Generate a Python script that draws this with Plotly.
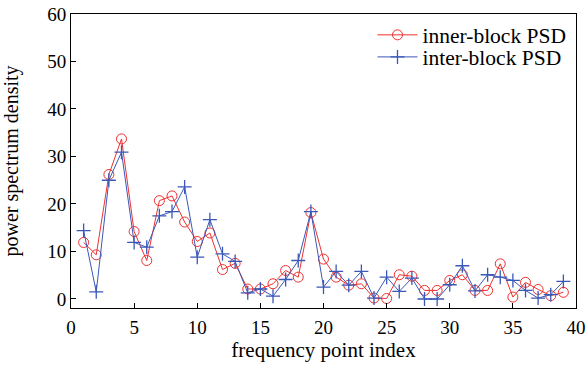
import plotly.graph_objects as go

idx = list(range(1, 40))
inner_psd = [11.9, 9.3, 26.2, 33.7, 14.2, 8.1, 20.7, 21.7, 16.2, 12.1,
             13.9, 6.2, 7.5, 2.1, 2.1, 3.2, 6.0, 4.6, 18.2, 8.4,
             4.6, 2.9, 3.2, 0.2, 0.1, 5.1, 4.8, 1.8, 1.8, 3.9,
             5.1, 1.8, 1.8, 7.4, 0.4, 3.5, 2.0, 0.7, 1.4]
inter_psd = [14.4, 1.5, 25.0, 30.9, 11.9, 10.9, 17.5, 18.4, 23.6, 8.8,
             16.7, 9.5, 7.9, 1.3, 2.1, 0.6, 4.1, 8.1, 18.4, 2.5,
             5.8, 2.9, 5.8, 0.2, 4.6, 1.6, 4.4, 0.0, 0.0, 3.0,
             7.0, 1.7, 5.1, 4.6, 3.9, 1.8, 0.2, 0.9, 3.7]
x_ticks = [0, 5, 10, 15, 20, 25, 30, 35, 40]
y_ticks = [0, 10, 20, 30, 40, 50, 60]

RED = "#ee3030"
BLUE = "#3a58b8"
FONT = "Liberation Serif, Times New Roman, serif"

fig = go.Figure()
fig.add_trace(go.Scatter(
    x=idx, y=inner_psd, mode="lines+markers", name="inner-block PSD",
    line=dict(color=RED, width=1),
    marker=dict(symbol="circle-open", size=10, color=RED, line=dict(width=1)),
    legend="legend",
))
fig.add_trace(go.Scatter(
    x=idx, y=inter_psd, mode="lines+markers", name="inter-block PSD",
    line=dict(color=BLUE, width=1),
    marker=dict(symbol="cross-thin-open", size=10, color=BLUE, line=dict(width=1.3, color=BLUE)),
    legend="legend2",
))

axis_common = dict(
    showline=True, linecolor="black", linewidth=1, mirror=True,
    ticks="inside", ticklen=5, tickcolor="black", tickwidth=1,
    showgrid=False, zeroline=False, automargin=False,
    ticklabeloverflow="allow",
    tickfont=dict(family=FONT, size=19, color="black"),
)

legend_common = dict(
    xanchor="left", yanchor="middle",
    bgcolor="rgba(0,0,0,0)", borderwidth=0,
    font=dict(family=FONT, size=21.5),
    itemwidth=40,
)

fig.update_layout(
    width=587, height=366,
    margin=dict(l=71, r=11, t=14, b=58),
    paper_bgcolor="white", plot_bgcolor="white",
    font=dict(family=FONT, size=19, color="black"),
    xaxis=dict(range=[0, 40], tickvals=x_ticks, ticklabelstandoff=2,
               title=dict(text="frequency point index", font=dict(family=FONT, size=21), standoff=3),
               **axis_common),
    yaxis=dict(range=[-1.9, 60], tickvals=y_ticks,
               title=dict(text="power spectrum density", font=dict(family=FONT, size=20), standoff=27),
               **axis_common),
    legend=dict(x=0.597, y=0.929, **legend_common),
    legend2=dict(x=0.597, y=0.854, **legend_common),
    showlegend=True,
)

# remove the default 8px page margin so the figure fills the window exactly
fig.write_html("out.html", config={"displayModeBar": False},
               post_script="document.body.style.margin='0px';")
